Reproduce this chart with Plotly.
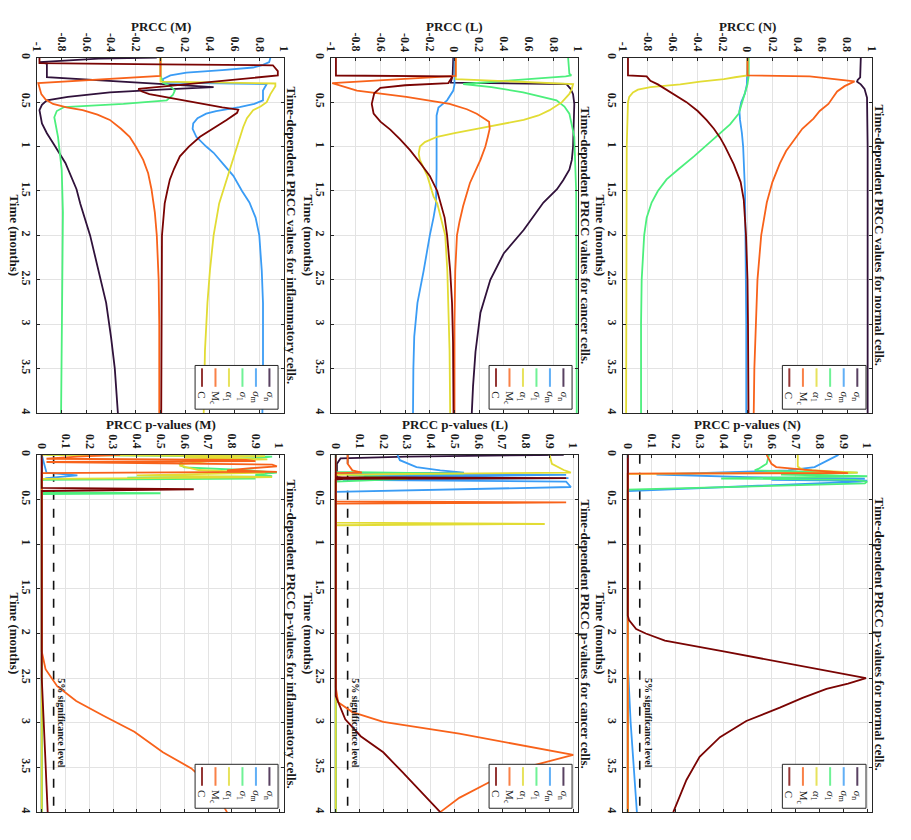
import plotly.graph_objects as go

W, H = 911, 840
PAGE_PAD = 8  # the browser puts the figure 8 px in from the page corner
FIG_W, FIG_H = W - PAGE_PAD, H - PAGE_PAD

# ---- data: [time (months), value] ----
# PRCC values, normal cells
N_VAL_C = [[0, -0.96], [0.2, -0.96], [0.21, -0.81], [0.26, -0.78], [0.3, -0.72], [0.4, -0.6], [0.5, -0.49],
           [0.6, -0.4], [0.7, -0.33], [0.8, -0.27], [0.9, -0.22], [1.0, -0.18], [1.2, -0.11], [1.4, -0.055],
           [1.6, -0.03], [2.0, -0.012], [2.5, 0.0], [3.0, 0.004], [4.0, 0.008]]
N_VAL_MC = [[0, 0.0], [0.2, 0.0], [0.21, 0.5], [0.267, 0.86], [0.32, 0.78], [0.38, 0.72], [0.44, 0.69],
            [0.52, 0.65], [0.6, 0.58], [0.685, 0.53], [0.8, 0.44], [0.93, 0.37], [1.05, 0.31], [1.19, 0.26],
            [1.4, 0.2], [1.63, 0.155], [2.0, 0.11], [2.5, 0.08], [3.0, 0.065], [3.5, 0.055], [4.0, 0.05]]
N_VAL_A1 = [[0, 0.0], [0.2, 0.0], [0.22, -0.1], [0.24, -0.19], [0.27, -0.38], [0.3, -0.54], [0.33, -0.78],
            [0.36, -0.88], [0.39, -0.92], [0.44, -0.95], [0.5, -0.96], [1.0, -0.97], [4.0, -0.975]]
N_VAL_S1 = [[0, 0.01], [0.2, 0.01], [0.3, 0.0], [0.44, -0.03], [0.55, -0.05], [0.63, -0.07], [0.75, -0.14],
            [0.85, -0.22], [1.0, -0.34], [1.11, -0.43], [1.25, -0.55], [1.37, -0.65], [1.5, -0.72],
            [1.63, -0.77], [1.8, -0.81], [2.0, -0.83], [2.5, -0.85], [3.0, -0.855], [4.0, -0.855]]
N_VAL_SM = [[0, 0.0], [0.2, 0.0], [0.3, -0.005], [0.4, -0.02], [0.5, -0.05], [0.6, -0.065], [0.7, -0.06],
            [0.85, -0.045], [1.0, -0.035], [1.5, -0.02], [2.0, -0.015], [3.0, -0.01], [4.0, -0.01]]
N_VAL_SN = [[0, 0.91], [0.18, 0.91], [0.22, 0.905], [0.25, 0.885], [0.27, 0.88], [0.3, 0.91], [0.35, 0.94],
            [0.45, 0.96], [1.0, 0.965], [4.0, 0.965]]

# PRCC values, cancer cells
L_VAL_C = [[0, -0.96], [0.2, -0.96], [0.21, -0.03], [0.22, -0.02], [0.285, -0.05], [0.31, -0.4], [0.34, -0.6],
           [0.4, -0.65], [0.52, -0.67], [0.63, -0.655], [0.72, -0.6], [0.81, -0.52], [0.92, -0.44],
           [1.04, -0.36], [1.2, -0.27], [1.33, -0.2], [1.5, -0.14], [1.64, -0.11], [1.8, -0.08], [2.0, -0.06],
           [2.4, -0.035], [2.76, -0.02], [3.2, -0.012], [4.0, -0.008]]
L_VAL_MC = [[0, 0.01], [0.205, 0.01], [0.285, -0.99], [0.32, -0.9], [0.37, -0.79], [0.44, -0.39],
            [0.52, -0.04], [0.58, 0.1], [0.63, 0.18], [0.72, 0.28], [0.8, 0.285], [0.89, 0.27], [1.0, 0.25],
            [1.15, 0.21], [1.28, 0.165], [1.41, 0.125], [1.55, 0.095], [1.67, 0.07], [1.85, 0.04], [2.0, 0.02],
            [2.4, 0.006], [3.0, 0.0], [4.0, 0.0]]
L_VAL_A1 = [[0, 0.01], [0.24, 0.01], [0.296, 0.96], [0.35, 0.95], [0.407, 0.93], [0.5, 0.87], [0.59, 0.77],
            [0.65, 0.68], [0.7, 0.56], [0.75, 0.36], [0.8, 0.18], [0.85, 0.0], [0.89, -0.14], [0.95, -0.24],
            [1.0, -0.28], [1.08, -0.29], [1.15, -0.28], [1.33, -0.22], [1.56, -0.17], [1.64, -0.14],
            [2.0, -0.075], [2.4, -0.058], [2.76, -0.05], [3.3, -0.04], [4.0, -0.035]]
L_VAL_S1 = [[0, 0.92], [0.18, 0.93], [0.2, 0.946], [0.21, 0.9], [0.296, 0.07], [0.33, 0.3], [0.39, 0.556],
            [0.48, 0.826], [0.55, 0.89], [0.63, 0.93], [0.89, 0.97], [1.5, 0.985], [4.0, 0.99]]
L_VAL_SM = [[0, 0.0], [0.3, 0.0], [0.37, -0.01], [0.42, -0.03], [0.48, -0.06], [0.56, -0.13], [0.65, -0.145],
            [1.26, -0.145], [1.64, -0.15], [1.8, -0.17], [2.0, -0.2], [2.4, -0.25], [2.76, -0.3],
            [3.14, -0.326], [3.5, -0.333], [4.0, -0.336]]
L_VAL_SN = [[0, -0.01], [0.2, -0.015], [0.28, -0.03], [0.296, 0.905], [0.35, 0.94], [0.41, 0.96], [0.52, 0.97],
            [1.0, 0.96], [1.15, 0.95], [1.26, 0.93], [1.38, 0.88], [1.48, 0.83], [1.63, 0.72], [1.8, 0.63],
            [1.94, 0.56], [2.2, 0.4], [2.5, 0.29], [2.87, 0.21], [3.31, 0.17], [3.7, 0.15], [4.0, 0.14]]

# PRCC values, inflammatory cells
M_VAL_C = [[0, -0.98], [0.06, -0.98], [0.075, 0.0], [0.085, 0.91], [0.15, 0.95], [0.2, 0.95], [0.35, -0.18],
           [0.38, -0.15], [0.41, -0.09], [0.46, 0.1], [0.52, 0.32], [0.56, 0.5], [0.585, 0.63], [0.62, 0.62],
           [0.7, 0.535], [0.8, 0.42], [0.89, 0.32], [1.0, 0.23], [1.11, 0.157], [1.25, 0.11], [1.37, 0.076],
           [1.5, 0.055], [1.64, 0.034], [2.0, 0.012], [3.0, 0.008], [4.0, 0.006]]
M_VAL_MC = [[0, 0.0], [0.204, 0.0], [0.285, -0.99], [0.35, -0.98], [0.41, -0.965], [0.47, -0.93],
            [0.52, -0.87], [0.56, -0.76], [0.59, -0.63], [0.64, -0.51], [0.7, -0.41], [0.8, -0.32],
            [0.89, -0.25], [1.0, -0.2], [1.15, -0.14], [1.3, -0.1], [1.48, -0.073], [1.74, -0.046],
            [2.0, -0.03], [2.5, -0.015], [3.0, -0.01], [4.0, -0.01]]
M_VAL_A1 = [[0, 0.0], [0.27, 0.0], [0.29, 0.93], [0.32, 0.93], [0.41, 0.89], [0.5, 0.86], [0.55, 0.81],
            [0.59, 0.75], [0.68, 0.7], [0.78, 0.67], [1.0, 0.62], [1.26, 0.56], [1.48, 0.51], [1.64, 0.475],
            [2.0, 0.43], [2.4, 0.4], [2.76, 0.38], [3.3, 0.36], [4.0, 0.35]]
M_VAL_S1 = [[0, 0.0], [0.2, 0.0], [0.28, 0.02], [0.32, 0.08], [0.37, 0.116], [0.42, 0.1], [0.48, 0.05],
            [0.52, -0.3], [0.555, -0.78], [0.6, -0.84], [0.67, -0.86], [0.89, -0.83], [1.26, -0.8],
            [1.74, -0.79], [4.0, -0.805]]
M_VAL_SM = [[0, 0.89], [0.05, 0.88], [0.08, 0.83], [0.11, 0.75], [0.14, 0.5], [0.167, 0.21], [0.2, 0.08],
            [0.24, 0.02], [0.28, 0.02], [0.296, 0.86], [0.37, 0.83], [0.48, 0.83], [0.52, 0.76],
            [0.555, 0.64], [0.6, 0.45], [0.63, 0.37], [0.68, 0.3], [0.74, 0.265], [0.8, 0.26], [0.89, 0.29],
            [1.0, 0.37], [1.07, 0.43], [1.2, 0.51], [1.33, 0.59], [1.5, 0.66], [1.63, 0.72], [1.8, 0.77],
            [2.0, 0.8], [2.4, 0.82], [2.76, 0.83], [3.5, 0.83], [4.0, 0.825]]
M_VAL_SN = [[0, -0.03], [0.01, -0.5], [0.05, -0.98], [0.065, -0.92], [0.22, -0.92], [0.33, 0.43],
            [0.36, 0.0], [0.39, -0.41], [0.44, -0.75], [0.48, -0.92], [0.53, -0.96], [0.59, -0.98],
            [0.74, -0.96], [0.85, -0.92], [0.96, -0.87], [1.185, -0.77], [1.48, -0.68], [1.64, -0.65],
            [2.0, -0.57], [2.4, -0.5], [2.76, -0.44], [3.15, -0.4], [3.5, -0.37], [4.0, -0.345]]

# PRCC p-values, normal cells
N_P_C = [[0, 0.0], [1.8, 0.0], [1.85, 0.005], [1.95, 0.035], [2.0, 0.075], [2.08, 0.155], [2.2, 0.4],
         [2.35, 0.7], [2.5, 0.995], [2.56, 0.92], [2.62, 0.83], [2.72, 0.73], [2.83, 0.635], [2.98, 0.495],
         [3.16, 0.385], [3.38, 0.3], [3.64, 0.245], [4.0, 0.19]]
N_P_MC = [[0, 0.58], [0.1, 0.6], [0.137, 0.62], [0.16, 0.7], [0.174, 0.77], [0.19, 0.86], [0.204, 0.92],
          [0.21, 0.0], [4.0, 0.0]]
N_P_A1 = [[0, 0.71], [0.13, 0.71], [0.15, 0.72], [0.17, 0.74], [0.2, 0.96], [0.212, 0.0], [4.0, 0.0]]
N_P_S1 = [[0, 0.59], [0.1, 0.58], [0.15, 0.55], [0.174, 0.53], [0.2, 0.96], [0.22, 0.64], [0.24, 1.0],
          [0.265, 0.39], [0.28, 0.95], [0.3, 1.0], [0.32, 0.99], [0.39, 0.0], [4.0, 0.0]]
N_P_SM = [[0, 0.88], [0.06, 0.835], [0.137, 0.78], [0.174, 0.67], [0.2, 0.4], [0.22, 0.12], [0.25, 0.5],
          [0.267, 0.99], [0.28, 0.6], [0.29, 1.0], [0.3, 0.97], [0.405, 0.0], [2.4, 0.0], [2.5, 0.003],
          [3.0, 0.012], [3.5, 0.025], [4.0, 0.038]]
N_P_SN = [[0, 0.0], [4.0, 0.0]]

# PRCC p-values, cancer cells
L_P_C = [[0, 0.0], [0.25, 0.0], [0.26, 0.97], [0.27, 0.0], [2.7, 0.0], [2.96, 0.04], [3.15, 0.105],
         [3.33, 0.2], [3.55, 0.28], [3.77, 0.36], [4.0, 0.44]]
L_P_MC = [[0, 0.05], [0.1, 0.05], [0.174, 0.07], [0.2, 0.11], [0.205, 0.0], [0.52, 0.0], [0.533, 0.97],
          [0.546, 0.0], [2.6, 0.0], [2.77, 0.01], [2.88, 0.07], [2.99, 0.2], [3.12, 0.52], [3.36, 1.0],
          [3.47, 0.84], [3.66, 0.65], [3.84, 0.52], [4.0, 0.44]]
L_P_A1 = [[0, 0.9], [0.1, 0.91], [0.17, 0.96], [0.2, 0.99], [0.215, 0.2], [0.225, 0.0], [0.76, 0.0],
          [0.774, 0.88], [0.788, 0.0], [4.0, 0.0]]
L_P_S1 = [[0, 0.0], [0.19, 0.0], [0.21, 0.54], [0.225, 0.05], [0.27, 0.3], [0.3, 0.0], [4.0, 0.0]]
L_P_SM = [[0, 0.26], [0.06, 0.27], [0.137, 0.34], [0.174, 0.44], [0.2, 0.54], [0.21, 0.02], [0.225, 0.97],
          [0.24, 0.12], [0.26, 0.98], [0.28, 0.03], [0.3, 0.97], [0.36, 0.99], [0.415, 0.0], [4.0, 0.0]]
L_P_SN = [[0, 0.96], [0.02, 0.3], [0.04, 0.02], [0.1, 0.005], [0.25, 0.005], [0.265, 0.04], [0.28, 0.0],
          [4.0, 0.0]]

# PRCC p-values, inflammatory cells
M_P_C = [[0, 0.0], [0.37, 0.0], [0.385, 0.64], [0.395, 0.24], [0.405, 0.0], [2.5, 0.0], [3.0, 0.007],
         [3.33, 0.014], [3.7, 0.02], [4.0, 0.025]]
M_P_MC = [[0, 0.33], [0.02, 0.15], [0.044, 0.02], [0.056, 0.86], [0.07, 0.9], [0.08, 0.02], [0.11, 0.97],
          [0.13, 0.99], [0.15, 0.88], [0.174, 0.78], [0.19, 0.99], [0.205, 0.0], [2.2, 0.0], [2.4, 0.016],
          [2.59, 0.065], [2.755, 0.145], [2.92, 0.26], [3.1, 0.39], [3.33, 0.51], [3.51, 0.63], [3.73, 0.72],
          [4.0, 0.78]]
M_P_A1 = [[0, 0.0], [0.015, 0.94], [0.03, 0.6], [0.05, 0.95], [0.07, 0.7], [0.1, 0.6], [0.12, 0.58],
          [0.17, 0.66], [0.2, 0.94], [0.23, 0.4], [0.25, 0.97], [0.27, 0.0], [4.0, 0.0]]
M_P_S1 = [[0, 0.02], [0.02, 0.97], [0.04, 0.9], [0.06, 0.6], [0.1, 0.58], [0.14, 0.6], [0.17, 0.85],
          [0.2, 0.99], [0.22, 0.9], [0.24, 0.97], [0.255, 0.36], [0.265, 0.9], [0.28, 0.0], [0.42, 0.0],
          [0.43, 0.5], [0.44, 0.0], [4.0, 0.0]]
M_P_SM = [[0, 0.0], [0.2, 0.02], [0.23, 0.15], [0.26, 0.02], [0.28, 0.0], [4.0, 0.0]]
M_P_SN = [[0, 0.0], [4.0, 0.0]]

SIG_LEVEL = 0.05

LEGEND_TEXT = ["C", "M<sub>c</sub>", "<i>α</i><sub>1</sub>", "<i>σ</i><sub>1</sub>",
               "<i>σ</i><sub>m</sub>", "<i>σ</i><sub>n</sub>"]
COLORS = ["#7a0403", "#f8621a", "#e2dc34", "#4cef7c", "#3a9cf5", "#30123b"]

PRCC_TICKS = [-1, -0.8, -0.6, -0.4, -0.2, 0, 0.2, 0.4, 0.6, 0.8, 1]
PRCC_TICKTEXT = ["-1", "-0.8", "-0.6", "-0.4", "-0.2", "0", "0.2", "0.4", "0.6", "0.8", "1"]
PVAL_TICKS = [0, 0.1, 0.2, 0.3, 0.4, 0.5, 0.6, 0.7, 0.8, 0.9, 1]
PVAL_TICKTEXT = ["0", "0.1", "0.2", "0.3", "0.4", "0.5", "0.6", "0.7", "0.8", "0.9", "1"]
TIME_TICKS = [0, 0.5, 1, 1.5, 2, 2.5, 3, 3.5, 4]
TIME_TICKTEXT = ["0", "0.5", "1", "1.5", "2", "2.5", "3", "3.5", "4"]

# ---- layout (pixels of the 911x840 page) ----
COLS = {"M": (37, 284), "L": (331, 578), "N": (623, 872)}
ROWS = {"val": (53, 411), "p": (453, 813)}

PANELS = [
    ("N", "val", [N_VAL_C, N_VAL_MC, N_VAL_A1, N_VAL_S1, N_VAL_SM, N_VAL_SN],
     "PRCC (N)", "Time-dependent PRCC values for normal cells."),
    ("L", "val", [L_VAL_C, L_VAL_MC, L_VAL_A1, L_VAL_S1, L_VAL_SM, L_VAL_SN],
     "PRCC (L)", "Time-dependent PRCC values for cancer cells."),
    ("M", "val", [M_VAL_C, M_VAL_MC, M_VAL_A1, M_VAL_S1, M_VAL_SM, M_VAL_SN],
     "PRCC (M)", "Time-dependent PRCC values for inflammatory cells."),
    ("N", "p", [N_P_C, N_P_MC, N_P_A1, N_P_S1, N_P_SM, N_P_SN],
     "PRCC p-values (N)", "Time-dependent PRCC p-values for normal cells."),
    ("L", "p", [L_P_C, L_P_MC, L_P_A1, L_P_S1, L_P_SM, L_P_SN],
     "PRCC p-values (L)", "Time-dependent PRCC p-values for cancer cells."),
    ("M", "p", [M_P_C, M_P_MC, M_P_A1, M_P_S1, M_P_SM, M_P_SN],
     "PRCC p-values (M)", "Time-dependent PRCC p-values for inflammatory cells."),
]

SERIF = "Liberation Serif"
INK = "#1a1a1a"
FRAME = "#262626"
GRID = "#e3e3e3"


def px_x(px):
    return (px - PAGE_PAD) / FIG_W


def px_y(py):
    return 1 - (py - PAGE_PAD) / FIG_H


fig = go.Figure()
annotations = []
shapes = []
layout = {}

tick_font = dict(family=SERIF, size=12, color=INK, weight="bold")
bold13 = dict(family=SERIF, size=13, color=INK, weight="bold")

for k, (col, row, series, value_label, title) in enumerate(PANELS):
    s = "" if k == 0 else str(k + 1)
    x0, x1 = COLS[col]
    y0, y1 = ROWS[row]
    xmid = (x0 + x1) / 2
    ymid = (y0 + y1) / 2

    if row == "p":
        fig.add_trace(go.Scatter(x=[SIG_LEVEL, SIG_LEVEL], y=[TIME_TICKS[0], TIME_TICKS[-1]], mode="lines",
                                 line=dict(color="#111111", width=1.6, dash="dash"),
                                 xaxis="x" + s, yaxis="y" + s, showlegend=False, hoverinfo="skip"))
    # MATLAB drew C last (on top)
    for j in reversed(range(len(series))):
        pts = series[j]
        fig.add_trace(go.Scatter(x=[p[1] for p in pts], y=[p[0] for p in pts], mode="lines",
                                 line=dict(color=COLORS[j], width=1.8),
                                 xaxis="x" + s, yaxis="y" + s, showlegend=False, hoverinfo="skip"))

    if row == "val":
        xr, tv, tt = [-1, 1], PRCC_TICKS, PRCC_TICKTEXT
    else:
        xr, tv, tt = [-0.02, 1.02], PVAL_TICKS, PVAL_TICKTEXT

    common = dict(ticks="inside", ticklen=3, tickcolor=FRAME, showline=True, mirror="ticks",
                  linecolor=FRAME, linewidth=1, gridcolor=GRID, gridwidth=1, zeroline=False)
    layout["xaxis" + s] = dict(domain=[px_x(x0), px_x(x1)], anchor="y" + s, side="top", range=xr,
                               tickvals=tv, showticklabels=False, **common)
    layout["yaxis" + s] = dict(domain=[px_y(y1), px_y(y0)], anchor="x" + s, range=[4.0005, -0.0005],
                               tickvals=TIME_TICKS, ticktext=TIME_TICKTEXT, tickangle=90,
                               tickfont=tick_font, **common)

    # value-axis tick labels, turned like the rest of the page
    for v, lab in zip(tv, tt):
        annotations.append(dict(text=lab, x=v, xref="x" + s, y=px_y(y0 - 4), yref="paper",
                                showarrow=False, textangle=90, font=tick_font,
                                xanchor="center", yanchor="bottom"))

    annotations.append(dict(text=value_label, x=px_x(xmid), y=px_y(y0 - 31), xref="paper", yref="paper",
                            showarrow=False, font=bold13, xanchor="center", yanchor="middle"))
    annotations.append(dict(text="Time (months)", x=px_x(x0 - 22), y=px_y(ymid), xref="paper",
                            yref="paper", showarrow=False, font=bold13, textangle=90,
                            xanchor="center", yanchor="middle"))
    annotations.append(dict(text=title, x=px_x(x1 + 8), y=px_y(ymid), xref="paper", yref="paper",
                            showarrow=False, font=bold13, textangle=90, xanchor="center", yanchor="middle"))
    if row == "p":
        annotations.append(dict(text="5% significance level", x=SIG_LEVEL, y=3.0, xref="x" + s, yref="y" + s,
                                xshift=8, showarrow=False, textangle=90,
                                font=dict(family=SERIF, size=10, color=INK, weight="bold"),
                                xanchor="center", yanchor="middle"))

    # hand-made legend (entries laid side by side, text turned)
    xd, yd = "x" + s + " domain", "y" + s + " domain"
    shapes.append(dict(type="rect", xref=xd, yref=yd, x0=0.64, x1=0.976, y0=0.011, y1=0.134,
                       line=dict(color=FRAME, width=1), fillcolor="white", layer="above"))
    for j, label in enumerate(LEGEND_TEXT):
        xp = 0.668 + j * 0.0546
        shapes.append(dict(type="line", xref=xd, yref=yd, x0=xp, x1=xp, y0=0.074, y1=0.126,
                           line=dict(color=COLORS[j], width=2), opacity=0.8, layer="above"))
        annotations.append(dict(text=label, x=xp, y=0.066, xref=xd, yref=yd, showarrow=False, textangle=90,
                                font=dict(family=SERIF, size=11, color=INK), xanchor="center", yanchor="top"))

fig.update_layout(width=FIG_W, height=FIG_H, margin=dict(l=0, r=0, t=0, b=0), paper_bgcolor="white",
                  plot_bgcolor="white", annotations=annotations, shapes=shapes, **layout)
fig.write_html("out.html")
